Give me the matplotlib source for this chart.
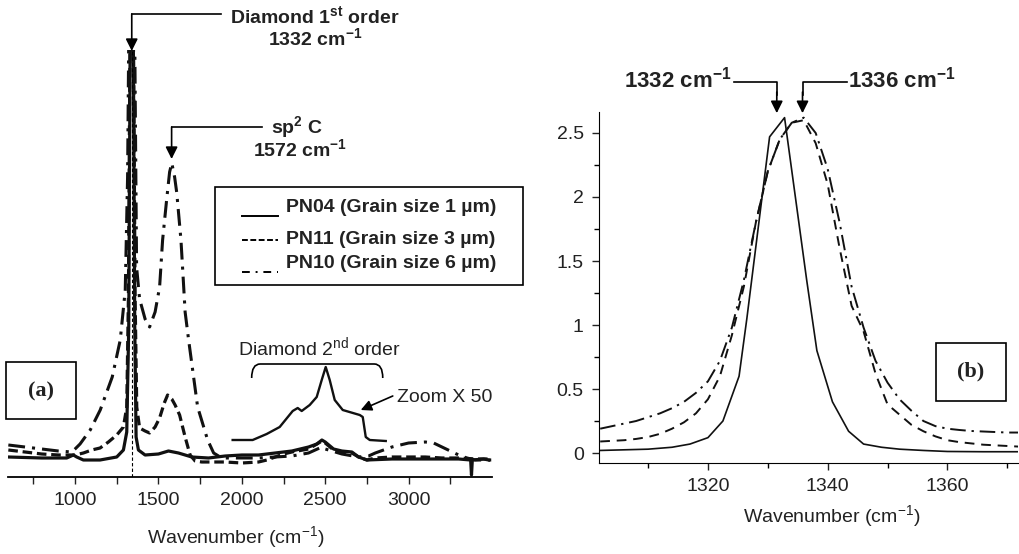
import matplotlib
matplotlib.use("Agg")
import matplotlib.pyplot as plt
from matplotlib.patches import Rectangle, PathPatch
from matplotlib.path import Path
from matplotlib.lines import Line2D

plt.rcParams['font.family'] = ['Liberation Sans', 'DejaVu Sans']
plt.rcParams['mathtext.fontset'] = 'custom'
plt.rcParams['mathtext.rm'] = 'Liberation Sans'
plt.rcParams['mathtext.bf'] = 'Liberation Sans:bold'

# ---- panel (a): full spectra (arbitrary units) ----
pn04_x = [600, 800, 950, 990, 1010, 1050, 1150, 1250, 1290, 1310, 1322, 1330, 1340,
          1350, 1358, 1366, 1380, 1420, 1500, 1560, 1620, 1700, 1800, 1900, 2000,
          2100, 2200, 2300, 2400, 2450, 2480, 2500, 2550, 2600, 2660, 2700, 2750,
          2900, 3000, 3100, 3200, 3300, 3372, 3377, 3382, 3450, 3480]
pn04_y = [20, 19, 19, 22, 20, 17, 17, 20, 27, 45, 150, 420, 600,
          420, 150, 40, 27, 22, 23, 26, 24, 20, 19, 21, 22,
          22, 24, 26, 30, 33, 37, 35, 28, 26, 25, 20, 17,
          18, 18, 18, 18, 18, 17, 2, 17, 18, 17]

pn11_x = [600, 700, 800, 900, 1000, 1050, 1100, 1150, 1200, 1250, 1290, 1310, 1320,
          1328, 1340, 1352, 1360, 1370, 1387, 1420, 1447, 1480, 1507, 1535, 1555,
          1580, 1600, 1627, 1660, 1690, 1720, 1760, 1800, 1900, 2000, 2100, 2150,
          2200, 2250, 2300, 2400, 2450, 2480, 2500, 2550, 2600, 2660, 2700, 2750,
          2800, 2900, 3000, 3100, 3200, 3300, 3400, 3500]
pn11_y = [27, 25, 23, 22, 22, 24, 27, 29, 35, 42, 50, 70, 180,
          400, 600, 400, 180, 70, 49, 46, 44, 50, 59, 74, 82,
          78, 72, 62, 40, 22, 16, 15, 15, 15, 14, 15, 17,
          20, 23, 25, 28, 33, 36, 34, 27, 25, 24, 20, 17,
          19, 20, 20, 20, 19, 19, 18, 18]

pn10_x = [600, 700, 800, 900, 980, 1000, 1030, 1091, 1151, 1223, 1271, 1301, 1315,
          1325, 1340, 1355, 1369, 1387, 1420, 1447, 1480, 1507, 1525, 1549, 1567,
          1580, 1597, 1610, 1635, 1648, 1660, 1681, 1735, 1795, 1831, 1870, 1900,
          2000, 2100, 2200, 2300, 2400, 2480, 2500, 2600, 2700, 2760, 2800, 2900,
          3000, 3100, 3150, 3200, 3300, 3350, 3400, 3450, 3500]
pn10_y = [32, 30, 28, 26, 25, 28, 33, 47, 67, 100, 137, 187, 300,
          500, 600, 500, 210, 178, 158, 150, 165, 190, 237, 277, 305,
          314, 300, 284, 237, 200, 165, 137, 70, 37, 24, 20, 19,
          19, 19, 20, 21, 24, 30, 28, 23, 20, 21, 24, 30,
          34, 35, 34, 30, 22, 19, 17, 17, 17]

# second order region, zoom x50
zoom_x = [1945, 2065, 2149, 2227, 2305, 2335, 2359, 2407, 2449, 2479, 2503, 2527,
          2557, 2605, 2707, 2725, 2743, 2767, 2863]
zoom_y = [37, 37, 43, 50, 66, 69, 66, 72, 80, 97, 110, 97,
          77, 67, 62, 60, 40, 37, 36]

# ---- panel (b): first order diamond peak ----
b04_x = [1302, 1306, 1310, 1314, 1317, 1320, 1322.5, 1325.2, 1326.5, 1330.3, 1332.8,
         1336.5, 1338.2, 1340.8, 1343.5, 1346, 1349, 1352, 1356, 1360, 1366, 1372]
b04_y = [0.02, 0.025, 0.03, 0.045, 0.07, 0.12, 0.25, 0.6, 1.05, 2.47, 2.62,
         1.35, 0.8, 0.4, 0.17, 0.07, 0.045, 0.03, 0.02, 0.012, 0.01, 0.01]

b_x = [1302, 1304, 1306, 1308, 1310, 1312, 1314, 1316, 1318, 1320, 1322, 1324,
       1326, 1328, 1330, 1332, 1334, 1336, 1338, 1340, 1342, 1344, 1346, 1348,
       1350, 1352, 1354, 1356, 1358, 1360, 1362, 1364, 1366, 1368, 1370, 1372]
b11_y = [0.09, 0.095, 0.1, 0.11, 0.125, 0.15, 0.19, 0.24, 0.31, 0.42, 0.6, 0.92,
         1.3, 1.8, 2.2, 2.45, 2.58, 2.6, 2.42, 2.1, 1.6, 1.15, 0.95, 0.62,
         0.38, 0.3, 0.22, 0.17, 0.13, 0.1, 0.085, 0.075, 0.065, 0.06, 0.055, 0.05]
b10_y = [0.19, 0.21, 0.23, 0.25, 0.28, 0.31, 0.35, 0.4, 0.47, 0.56, 0.72, 0.98,
         1.35, 1.8, 2.2, 2.45, 2.58, 2.62, 2.5, 2.22, 1.8, 1.3, 0.98, 0.72,
         0.55, 0.42, 0.33, 0.25, 0.21, 0.19, 0.18, 0.172, 0.168, 0.164, 0.16, 0.16]

labels = ['PN04 (Grain size 1 \u00b5m)', 'PN11 (Grain size 3 \u00b5m)',
          'PN10 (Grain size 6 \u00b5m)']

W, H = 1020, 554
fig = plt.figure(figsize=(W / 100, H / 100), dpi=100)


def box(x, y, w, h):
    # rectangle in figure pixels (top-left origin)
    return (x / W, 1 - (y + h) / H, w / W, h / H)


def fpt(x, y):
    return (x / W, 1 - y / H)


dash_a = (0, (3, 1.5))
dashdot_a = (0, (5.5, 2.3, 1, 2.3))

axa = fig.add_axes([8 / W, (H - 477) / H, 484 / W, 427 / H])
axa.plot(pn04_x, pn04_y, color='#111111', lw=2.3, ls='-')
axa.plot(pn11_x, pn11_y, color='#111111', lw=2.3, ls=dash_a)
axa.plot(pn10_x, pn10_y, color='#111111', lw=2.2, ls=dashdot_a)
axa.plot(zoom_x, zoom_y, color='#111111', lw=1.7)
axa.axvline(1340, color='black', lw=0.8, ls=(0, (3, 2)))
axa.set_xlim(598, 3500)
axa.set_ylim(0, 427)
for s in ['left', 'right', 'top']:
    axa.spines[s].set_visible(False)
axa.spines['bottom'].set_linewidth(1.3)
axa.set_yticks([])
axa.set_xticks([1000, 1500, 2000, 2500, 3000])
axa.set_xticks([750, 1250, 1750, 2250, 2750, 3250], minor=True)
axa.tick_params(axis='x', which='both', direction='out', length=5, width=1.0,
                labelsize=14, pad=6, colors='#222222')
axa.set_xlabel('Wavenumber (cm$^{\\mathrm{-1}}$)', fontsize=14, color='#222222')
axa.xaxis.set_label_coords(0.471, -0.11)

# diamond 1st order annotation
axa.plot([1340, 1873], [463, 463], color='black', lw=1.2, clip_on=False)
axa.annotate('', xy=(1340, 426), xytext=(1340, 463), annotation_clip=False,
             arrowprops=dict(arrowstyle='-|>', color='black', lw=1.2,
                             mutation_scale=18, shrinkA=0, shrinkB=0))
axa.text(2437, 460, 'Diamond 1$^{\\mathbf{st}}$ order', ha='center', va='center',
         fontsize=14, fontweight='bold', color='#222222', clip_on=False)
axa.text(2437, 438, '1332 cm$^{\\mathbf{-1}}$', ha='center', va='center',
         fontsize=14, fontweight='bold', color='#222222', clip_on=False)

# sp2 annotation
axa.plot([1579, 2119], [350, 350], color='black', lw=1.2)
axa.annotate('', xy=(1579, 318), xytext=(1579, 350),
             arrowprops=dict(arrowstyle='-|>', color='black', lw=1.2,
                             mutation_scale=18, shrinkA=0, shrinkB=0))
axa.text(2330, 349, 'sp$^{\\mathbf{2}}$ C', ha='center', va='center',
         fontsize=14, fontweight='bold', color='#222222')
axa.text(2347, 327, '1572 cm$^{\\mathbf{-1}}$', ha='center', va='center',
         fontsize=14, fontweight='bold', color='#222222')

# second order bracket and zoom label
verts = [(2059, 99), (2059, 113), (2110, 113), (2794, 113), (2845, 113), (2845, 99)]
codes = [Path.MOVETO, Path.CURVE3, Path.CURVE3, Path.LINETO, Path.CURVE3, Path.CURVE3]
axa.add_patch(PathPatch(Path(verts, codes), fill=False, lw=1.2, color='black'))
axa.text(2464, 129, 'Diamond 2$^{\\mathrm{nd}}$ order', ha='center', va='center',
         fontsize=14, color='#222222')
axa.text(2930, 80, 'Zoom X 50', ha='left', va='center', fontsize=14, color='#222222')
axa.annotate('', xy=(2713, 67), xytext=(2905, 81),
             arrowprops=dict(arrowstyle='-|>', color='black', lw=1.2,
                             mutation_scale=16, shrinkA=0, shrinkB=0))

# hand-drawn style legend
fig.add_artist(Rectangle(box(215, 187, 308, 98)[:2], 308 / W, 98 / H,
                         transform=fig.transFigure, fill=False, lw=1.2,
                         edgecolor='black'))
leg_styles = ['-', (0, (3, 1.3)), (0, (4, 3, 1, 3))]
leg_y = [216, 240, 272]
txt_y = [208, 240, 263]
for st, ly, ty, lab in zip(leg_styles, leg_y, txt_y, labels):
    x0, y0 = fpt(242, ly)
    x1, _ = fpt(278, ly)
    fig.add_artist(Line2D([x0, x1], [y0, y0], transform=fig.transFigure,
                          color='black', lw=1.4, ls=st))
    fig.text(*fpt(286, ty), lab, ha='left', va='center', fontsize=14,
             fontweight='bold', color='#222222')

# (a) box
fig.add_artist(Rectangle(box(6, 362, 70, 57)[:2], 70 / W, 57 / H,
                         transform=fig.transFigure, fill=False, lw=1.2,
                         edgecolor='black'))
fig.text(*fpt(41, 391), '(a)', ha='center', va='center', fontsize=16,
         fontweight='bold', family='Liberation Serif', color='#222222')

# ---- panel (b) ----
axb = fig.add_axes([599 / W, (H - 463) / H, 419 / W, 351 / H])
axb.plot(b04_x, b04_y, color='#111111', lw=1.2, ls='-')
axb.plot(b_x, b11_y, color='#111111', lw=1.4, ls=(0, (5, 3.5)))
axb.plot(b_x, b10_y, color='#111111', lw=1.4, ls=(0, (8, 3, 1.2, 3)))
axb.set_xlim(1301.8, 1371.8)
axb.set_ylim(-0.078, 2.664)
for s in ['right', 'top']:
    axb.spines[s].set_visible(False)
axb.set_xticks([1320, 1340, 1360])
axb.set_xticks([1310, 1330, 1350, 1370], minor=True)
axb.set_yticks([0, 0.5, 1, 1.5, 2, 2.5])
axb.set_yticklabels(['0', '0.5', '1', '1.5', '2', '2.5'])
axb.set_yticks([0.25, 0.75, 1.25, 1.75, 2.25], minor=True)
axb.tick_params(axis='both', which='major', direction='out', length=5, width=1.0,
                labelsize=14, colors='#222222')
axb.tick_params(axis='both', which='minor', direction='out', length=3.5, width=1.0)
axb.tick_params(axis='y', pad=6)
axb.tick_params(axis='x', pad=6)
axb.set_xlabel('Wavenumber (cm$^{\\mathrm{-1}}$)', fontsize=14, color='#222222')
axb.xaxis.set_label_coords(0.556, -0.115)

# peak annotations
axb.plot([1324.3, 1331.5, 1331.5], [2.898, 2.898, 2.80], color='black', lw=1.2,
         clip_on=False)
axb.annotate('', xy=(1331.5, 2.655), xytext=(1331.5, 2.82), annotation_clip=False,
             arrowprops=dict(arrowstyle='-|>', color='black', lw=1.2,
                             mutation_scale=18, shrinkA=0, shrinkB=0))
axb.plot([1343.2, 1335.8, 1335.8], [2.898, 2.898, 2.80], color='black', lw=1.2,
         clip_on=False)
axb.annotate('', xy=(1335.8, 2.655), xytext=(1335.8, 2.82), annotation_clip=False,
             arrowprops=dict(arrowstyle='-|>', color='black', lw=1.2,
                             mutation_scale=18, shrinkA=0, shrinkB=0))
axb.text(1323.9, 2.915, '1332 cm$^{\\mathbf{-1}}$', ha='right', va='center',
         fontsize=16, fontweight='bold', color='#222222', clip_on=False)
axb.text(1343.4, 2.915, '1336 cm$^{\\mathbf{-1}}$', ha='left', va='center',
         fontsize=16, fontweight='bold', color='#222222', clip_on=False)

# (b) box
fig.add_artist(Rectangle(box(936, 343, 70, 58)[:2], 70 / W, 58 / H,
                         transform=fig.transFigure, fill=False, lw=1.2,
                         edgecolor='black'))
fig.text(*fpt(971, 371), '(b)', ha='center', va='center', fontsize=16,
         fontweight='bold', family='Liberation Serif', color='#222222')

fig.savefig('out.png', dpi=100)
